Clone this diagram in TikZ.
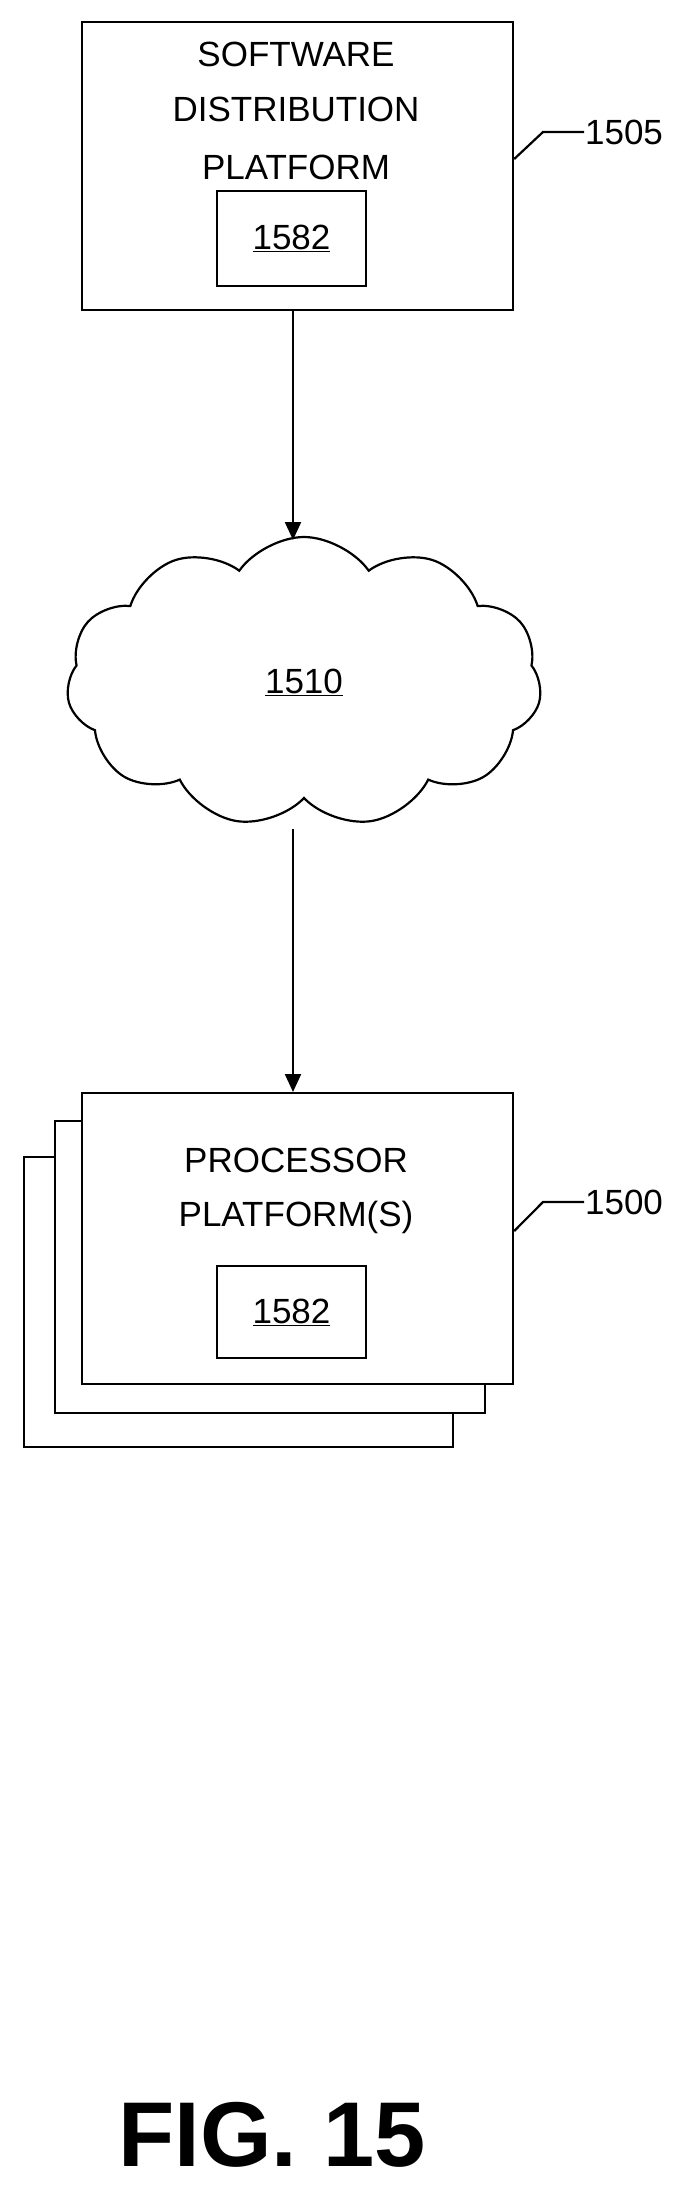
\documentclass[tikz,border=0pt]{standalone}
\usepackage{fontspec}
\setmainfont{Liberation Sans}
\usetikzlibrary{shapes.symbols,arrows.meta}
\begin{document}
\begin{tikzpicture}[x=1pt,y=-1pt,line width=2.2pt,
  box/.style={draw,fill=white,line width=2.2pt},
  lbl/.style={font=\fontsize{35}{35}\selectfont,inner sep=0pt},
  arr/.style={-{Triangle[length=18pt,width=16pt]},line width=2.2pt}]
\useasboundingbox (0,0) rectangle (696,2195);
% top box
\node[box,minimum width=431pt,minimum height=288pt,anchor=north west] (sdp) at (81,21) {};
\node[lbl] (t1) at (296,54) {SOFTWARE};
\node[lbl] (t2) at (296,109) {DISTRIBUTION};
\node[lbl] (t3) at (296,167) {PLATFORM};
\node[box,minimum width=149pt,minimum height=95pt,inner sep=0pt,font=\fontsize{35}{35}\selectfont] (s1) at (291.5,238.5) {\underline{1582}};
\coordinate (c1) at (543,132);
\node[lbl,anchor=west] (r1505) at (584,132) {1505};
\draw (sdp.east |- 0,159) -- (c1) -- (r1505.west);
% cloud
\node[cloud,draw,cloud puffs=11,cloud puff arc=110,aspect=1.7,minimum width=475pt,minimum height=290pt,font=\fontsize{35}{35}\selectfont] (net) at (304,682) {\underline{1510}};
% stacked boxes
\node[box,minimum width=429pt,minimum height=290pt,anchor=north west] (p3) at (23,1156) {};
\node[box,minimum width=430pt,minimum height=292pt,anchor=north west] (p2) at (54,1120) {};
\node[box,minimum width=431pt,minimum height=291pt,anchor=north west] (pp) at (81,1092) {};
\node[lbl] (u1) at (296,1160) {PROCESSOR};
\node[lbl] (u2) at (296,1217) {PLATFORM(S)};
\node[box,minimum width=149pt,minimum height=92pt,inner sep=0pt,font=\fontsize{35}{35}\selectfont] (s2) at (291.5,1312) {\underline{1582}};
\coordinate (c2) at (543,1202);
\node[lbl,anchor=west] (r1500) at (584,1202) {1500};
\draw (pp.east |- 0,1231) -- (c2) -- (r1500.west);
% arrows
\draw[arr] (sdp.south -| 293,0) -- (293,540);
\draw[arr] (293,829) -- (pp.north -| 293,0);
\node[font=\bfseries\fontsize{92}{92}\selectfont,inner sep=0pt] (fig) at (272,2135) {FIG. 15};
\end{tikzpicture}
\end{document}
